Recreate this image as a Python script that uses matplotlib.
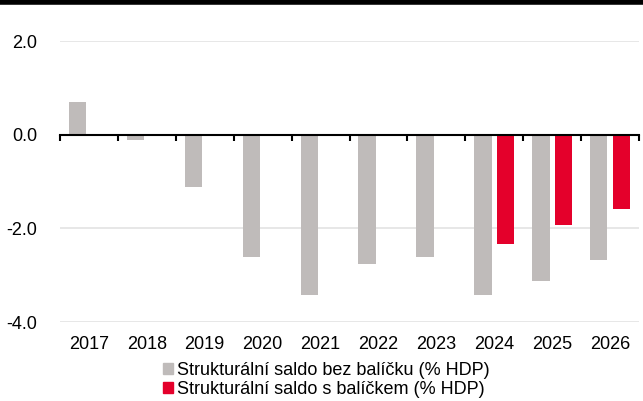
import numpy as np
import matplotlib
matplotlib.use("Agg")
import matplotlib.pyplot as plt
from matplotlib.lines import Line2D
from matplotlib.patches import Patch

plt.rcParams['font.family'] = ['Liberation Sans', 'DejaVu Sans']

years = ["2017", "2018", "2019", "2020", "2021", "2022", "2023", "2024", "2025", "2026"]
bez_balicku = [0.70, -0.10, -1.12, -2.60, -3.42, -2.76, -2.61, -3.42, -3.12, -2.68]
s_balickem = [np.nan, np.nan, np.nan, np.nan, np.nan, np.nan, np.nan, -2.33, -1.92, -1.58]
y_ticks = [2.0, 0.0, -2.0, -4.0]
labels = ["Strukturální saldo bez balíčku (% HDP)", "Strukturální saldo s balíčkem (% HDP)"]

grey = "#BFBBBA"
red = "#E4002B"
fs = 13

fig = plt.figure(figsize=(6.43, 4.01), dpi=100)
ax = fig.add_axes([0.0933, 0.197, 0.9005, 0.7])

x = np.arange(len(years))
w = 0.30
ax.bar(x - 0.195, bez_balicku, width=w, color=grey, zorder=2)
ax.bar(x + 0.195, s_balickem, width=w, color=red, zorder=2)

ax.set_xlim(-0.5, len(years) - 0.5)
ax.set_ylim(-4, 2)
ax.set_yticks(y_ticks)
ax.set_yticklabels([f"{v:.1f}" for v in y_ticks], fontsize=fs)
ax.tick_params(axis='y', length=0, pad=16.5)
ax.grid(axis='y', color="#E3E3E3", linewidth=1.2, zorder=0)

for s in ['top', 'right', 'left']:
    ax.spines[s].set_visible(False)
ax.spines['bottom'].set_position(('data', 0))
ax.spines['bottom'].set_linewidth(1.5)
ax.spines['bottom'].set_zorder(3)
ax.set_xticks(np.arange(len(years) + 1) - 0.5)
ax.set_xticklabels([])
ax.tick_params(axis='x', length=4, width=1.5, direction='out')

for i, yr in enumerate(years):
    ax.text(i, -0.08, yr, transform=ax.get_xaxis_transform(),
            ha='center', va='center', fontsize=fs)

handles = [Patch(color=grey), Patch(color=red)]
fig.legend(handles, labels, loc='upper left', bbox_to_anchor=(0.2535, 0.098),
           frameon=False, fontsize=fs, handlelength=0.55, handleheight=0.55,
           handletextpad=0.25, labelspacing=0.1, borderpad=0, borderaxespad=0)

fig.add_artist(Line2D([0, 1], [0.994, 0.994], color="black", linewidth=4,
                      transform=fig.transFigure))

fig.savefig("out.png", dpi=100)
